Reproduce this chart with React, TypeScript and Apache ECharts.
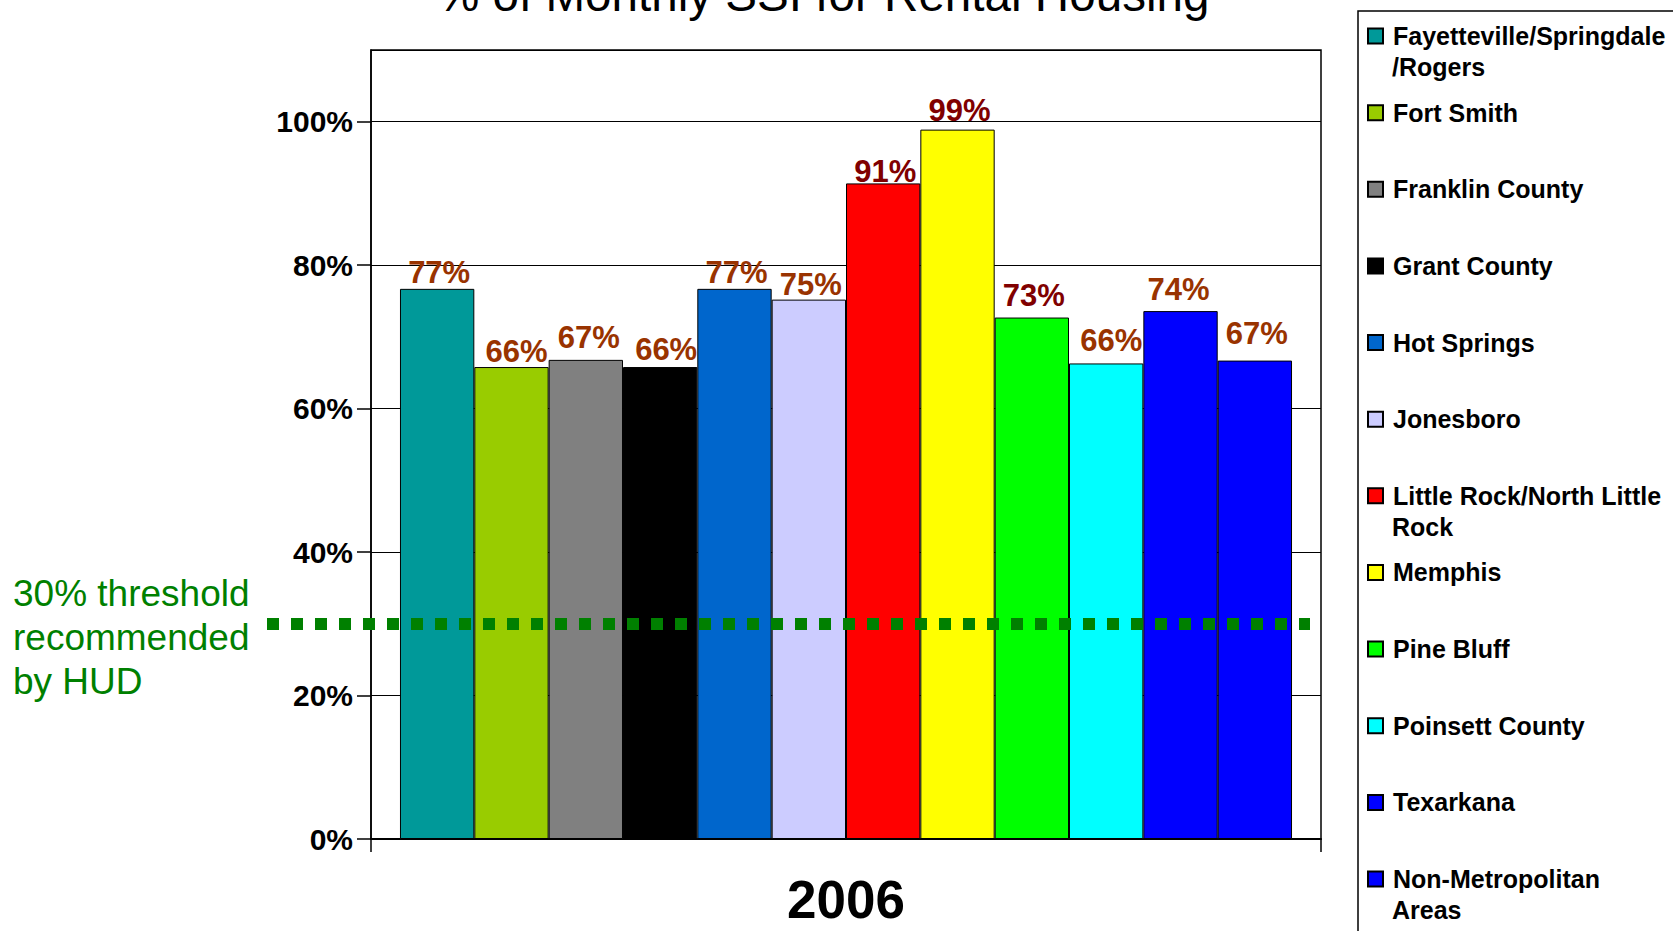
import React, { useEffect, useRef } from "react";
import * as echarts from "echarts";

const titleText = "% of Monthly SSI for Rental Housing";
const categories = ["2006"];
const seriesNames = [
  "Fayetteville/Springdale/Rogers",
  "Fort Smith",
  "Franklin County",
  "Grant County",
  "Hot Springs",
  "Jonesboro",
  "Little Rock/North Little Rock",
  "Memphis",
  "Pine Bluff",
  "Poinsett County",
  "Texarkana",
  "Non-Metropolitan Areas",
];
const legendFirstLines = [
  "Fayetteville/Springdale",
  "Fort Smith",
  "Franklin County",
  "Grant County",
  "Hot Springs",
  "Jonesboro",
  "Little Rock/North Little",
  "Memphis",
  "Pine Bluff",
  "Poinsett County",
  "Texarkana",
  "Non-Metropolitan",
];
const legendSecondLines = ["/Rogers", "", "", "", "", "", "Rock", "", "", "", "", "Areas"];
const values = [76.7, 65.8, 66.8, 65.8, 76.7, 75.2, 91.4, 98.9, 72.7, 66.3, 73.6, 66.7];
const barColors = [
  "#009999", "#99CC00", "#808080", "#000000", "#0066CC", "#CCCCFF",
  "#FF0000", "#FFFF00", "#00FF00", "#00FFFF", "#0000FF", "#0000FF",
];
const labelColors = [
  "#993300", "#993300", "#993300", "#993300", "#993300", "#993300",
  "#800000", "#800000", "#800000", "#993300", "#993300", "#993300",
];
// small per-label nudges (style only), matching the reference's label placement
const labelNudgeX = [2, 5, 3, 6, 2, 2, 2, 2, 2, 5, -2, 2];
const labelNudgeY = [1, 2, -5, 0, 1, 2, 6, -2, -5, -5, -4, -10];
const yMin = 0;
const yMax = 110;
const yInterval = 20;
const threshold = 30;
const thresholdText = "30% threshold\nrecommended\nby HUD";

const FONT = "'Liberation Sans', Arial, Helvetica, sans-serif";

export default function App() {
  const ref = useRef<HTMLDivElement>(null);
  useEffect(() => {
    if (!ref.current) return;
    const chart = echarts.init(ref.current, undefined, { renderer: "svg" });
    const legendStep = 76.64;
    const firstItemCenter = 36;
    const series: any[] = seriesNames.map((name, i) => ({
      name,
      type: "bar",
      data: [values[i]],
      barGap: "0%",
      barCategoryGap: "6.1%",
      itemStyle: { color: barColors[i], borderColor: "#000", borderWidth: 1 },
      label: {
        show: true,
        position: "top",
        distance: 2,
        offset: [labelNudgeX[i], labelNudgeY[i]],
        formatter: (p: any) => `${Math.round(p.value)}%`,
        color: labelColors[i],
        fontSize: 31,
        fontWeight: "bold",
        fontFamily: FONT,
      },
      ...(i === 0
        ? {
            markLine: {
              silent: true,
              symbol: ["none", "none"],
              label: { show: false },
              lineStyle: { color: "#008000", width: 12, type: [12, 12], cap: "butt" },
              data: [[{ x: 267, yAxis: threshold }, { x: 1310, yAxis: threshold }]],
            },
          }
        : {}),
    }));

    const graphics: any[] = [
      {
        type: "rect",
        shape: { x: 1358, y: 11, width: 400, height: 1000 },
        style: { fill: "none", stroke: "#000", lineWidth: 1.5 },
        silent: true,
      },
      {
        type: "text",
        x: 13,
        y: 571,
        style: {
          text: thresholdText,
          fill: "#008000",
          fontSize: 37,
          lineHeight: 44,
          fontFamily: FONT,
          verticalAlign: "top",
        },
      },
    ];
    legendSecondLines.forEach((t, i) => {
      if (!t) return;
      graphics.push({
        type: "text",
        x: 1392,
        y: firstItemCenter + i * legendStep + 31,
        style: {
          text: t,
          fill: "#000",
          fontSize: 25,
          fontWeight: "bold",
          fontFamily: FONT,
          verticalAlign: "middle",
        },
      });
    });

    chart.setOption({
      animation: false,
      backgroundColor: "#fff",
      title: {
        text: titleText,
        left: 437,
        top: -30,
        padding: 0,
        textStyle: { fontSize: 47.6, fontWeight: "normal", color: "#000", fontFamily: FONT },
      },
      grid: {
        left: 371,
        right: 352,
        top: 50,
        bottom: 92,
        show: true,
        borderColor: "#000",
        borderWidth: 1.5,
        containLabel: false,
      },
      legend: {
        orient: "vertical",
        left: 1367,
        top: firstItemCenter - 15,
        padding: 0,
        itemWidth: 15,
        itemHeight: 15,
        itemGap: legendStep - 30,
        icon: "rect",
        selectedMode: false,
        data: seriesNames,
        formatter: (name: string) => legendFirstLines[seriesNames.indexOf(name)],
        textStyle: {
          fontSize: 25,
          fontWeight: "bold",
          color: "#000",
          fontFamily: FONT,
          lineHeight: 30,
          padding: [0, 0, 0, 5],
        },
      },
      xAxis: {
        type: "category",
        data: categories,
        axisLine: { lineStyle: { color: "#000", width: 2 } },
        axisTick: { show: true, length: 13, lineStyle: { color: "#000", width: 1.5 } },
        axisLabel: { fontSize: 53, fontWeight: "bold", color: "#000", margin: 34, fontFamily: FONT },
      },
      yAxis: {
        type: "value",
        min: yMin,
        max: yMax,
        interval: yInterval,
        axisLine: { show: true, lineStyle: { color: "#000", width: 1.5 } },
        axisTick: { show: true, length: 14, lineStyle: { color: "#000", width: 1.5 } },
        axisLabel: {
          formatter: "{value}%",
          fontSize: 30,
          fontWeight: "bold",
          color: "#000",
          margin: 18,
          showMaxLabel: false,
          fontFamily: FONT,
        },
        splitLine: { show: true, lineStyle: { color: "#000", width: 1 } },
      },
      series,
      graphic: graphics,
    });
    return () => chart.dispose();
  }, []);
  return (
    <div
      ref={ref}
      style={{ position: "fixed", left: 0, top: 0, width: 1673, height: 931, background: "#fff" }}
    />
  );
}
